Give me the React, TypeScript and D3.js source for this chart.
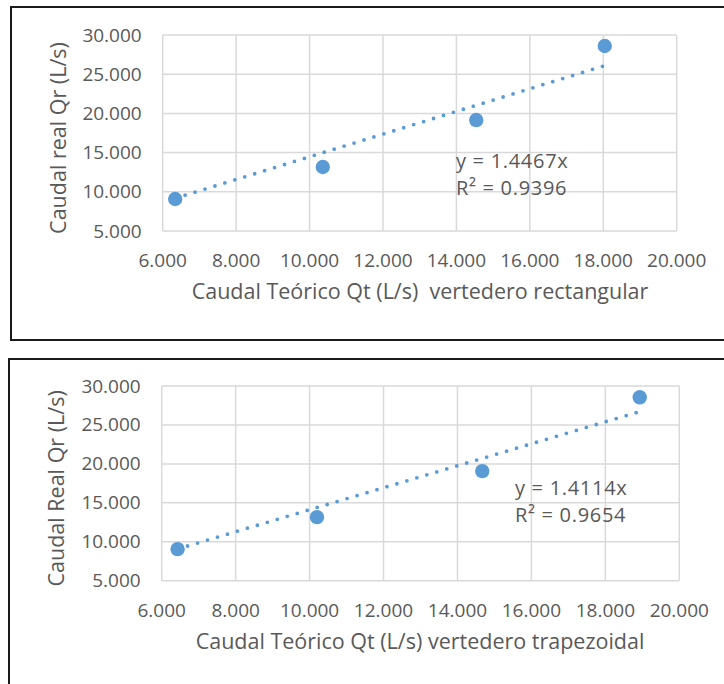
import React, { useEffect, useRef } from 'react'
import * as d3 from 'd3'

// caudal teorico vs caudal real, two weirs
const qtRect = [6.34, 10.36, 14.54, 18.04]
const qrRect = [9.08, 13.16, 19.15, 28.6]
const qtTrap = [6.43, 10.2, 14.67, 18.93]
const qrTrap = [9.05, 13.16, 19.07, 28.55]
const slopeRect = 1.4467
const slopeTrap = 1.4114
const eqRect = ['y = 1.4467x', 'R² = 0.9396']
const eqTrap = ['y = 1.4114x', 'R² = 0.9654']
const xTicks = [6, 8, 10, 12, 14, 16, 18, 20]
const yTicks = [5, 10, 15, 20, 25, 30]

const BLUE = '#5B9BD5'
const GRAY = '#595959'
const GRID = '#D9D9D9'
const FONT = "'Open Sans', sans-serif"

function drawChart(svg, opt) {
  const g = svg.append('g')

  // outer box
  g.append('rect')
    .attr('x', opt.box[0]).attr('y', opt.box[1])
    .attr('width', opt.box[2]).attr('height', opt.box[3])
    .attr('fill', 'white').attr('stroke', '#1a1a1a').attr('stroke-width', 2)

  const x = d3.scaleLinear().domain([6, 20]).range([opt.left, opt.right])
  const y = d3.scaleLinear().domain([5, 30]).range([opt.bottom, opt.top])

  // grid
  g.selectAll('.vg').data(xTicks).enter().append('line')
    .attr('x1', d => x(d)).attr('x2', d => x(d))
    .attr('y1', opt.top).attr('y2', opt.bottom)
    .attr('stroke', GRID).attr('stroke-width', 1.5)
  g.selectAll('.hg').data(yTicks).enter().append('line')
    .attr('y1', d => y(d)).attr('y2', d => y(d))
    .attr('x1', opt.left).attr('x2', opt.right)
    .attr('stroke', GRID).attr('stroke-width', 1.5)

  const fmt = d3.format('.3f')
  g.selectAll('.yt').data(yTicks).enter().append('text')
    .attr('x', opt.left - 21).attr('y', d => y(d) + 6.5)
    .attr('text-anchor', 'end')
    .attr('font-family', FONT).attr('font-size', 19).attr('fill', GRAY)
    .text(d => fmt(d))
  g.selectAll('.xt').data(xTicks).enter().append('text')
    .attr('x', d => x(d)).attr('y', opt.bottom + 36)
    .attr('text-anchor', 'middle')
    .attr('font-family', FONT).attr('font-size', 19).attr('fill', GRAY)
    .text(d => fmt(d))

  // axis titles
  g.append('text')
    .attr('transform', `translate(${opt.ytitleX},${(opt.top + opt.bottom) / 2 + 5}) rotate(-90)`)
    .attr('text-anchor', 'middle')
    .attr('font-family', FONT).attr('font-size', 21.5).attr('fill', GRAY)
    .text(opt.ytitle)
  g.append('text')
    .attr('x', opt.xtitleX).attr('y', opt.bottom + 68)
    .attr('text-anchor', 'middle')
    .attr('font-family', FONT).attr('font-size', 21.5).attr('fill', GRAY)
    .style('white-space', 'pre')
    .text(opt.xtitle)

  // trendline y = m x, dotted
  const xs = opt.xs
  const x0 = d3.min(xs), x1 = d3.max(xs)
  g.append('line')
    .attr('x1', x(x0)).attr('y1', y(opt.slope * x0))
    .attr('x2', x(x1)).attr('y2', y(opt.slope * x1))
    .attr('stroke', BLUE).attr('stroke-width', 3.8)
    .attr('stroke-linecap', 'round')
    .attr('stroke-dasharray', '0 10.4')

  g.selectAll('.pt').data(xs).enter().append('circle')
    .attr('cx', d => x(d)).attr('cy', (d, i) => y(opt.ys[i]))
    .attr('r', 7.2).attr('fill', BLUE)

  g.selectAll('.eq').data(opt.eq).enter().append('text')
    .attr('x', opt.eqPos[0]).attr('y', (d, i) => opt.eqPos[1] + i * 27)
    .attr('font-family', FONT).attr('font-size', 20).attr('fill', GRAY)
    .attr('letter-spacing', 0.7)
    .text(d => d)
}

export default function App() {
  const ref = useRef(null)

  useEffect(() => {
    const svg = d3.select(ref.current)
    svg.selectAll('*').remove()
    drawChart(svg, {
      box: [11, 7, 730, 333],
      left: 162.7, right: 676.7, top: 35, bottom: 231,
      xs: qtRect, ys: qrRect, slope: slopeRect, eq: eqRect, eqPos: [456, 168],
      ytitle: 'Caudal real Qr (L/s)', ytitleX: 66,
      xtitle: 'Caudal Teórico Qt (L/s)  vertedero rectangular', xtitleX: 420,
    })
    drawChart(svg, {
      box: [9, 359, 730, 340],
      left: 161.7, right: 679.3, top: 386, bottom: 580.7,
      xs: qtTrap, ys: qrTrap, slope: slopeTrap, eq: eqTrap, eqPos: [515, 495],
      ytitle: 'Caudal Real Qr (L/s)', ytitleX: 64,
      xtitle: 'Caudal Teórico Qt (L/s) vertedero trapezoidal', xtitleX: 420,
    })
  }, [])

  return (
    <svg ref={ref} width={724} height={684}
      style={{ position: 'absolute', left: 0, top: 0, background: 'white' }} />
  )
}
